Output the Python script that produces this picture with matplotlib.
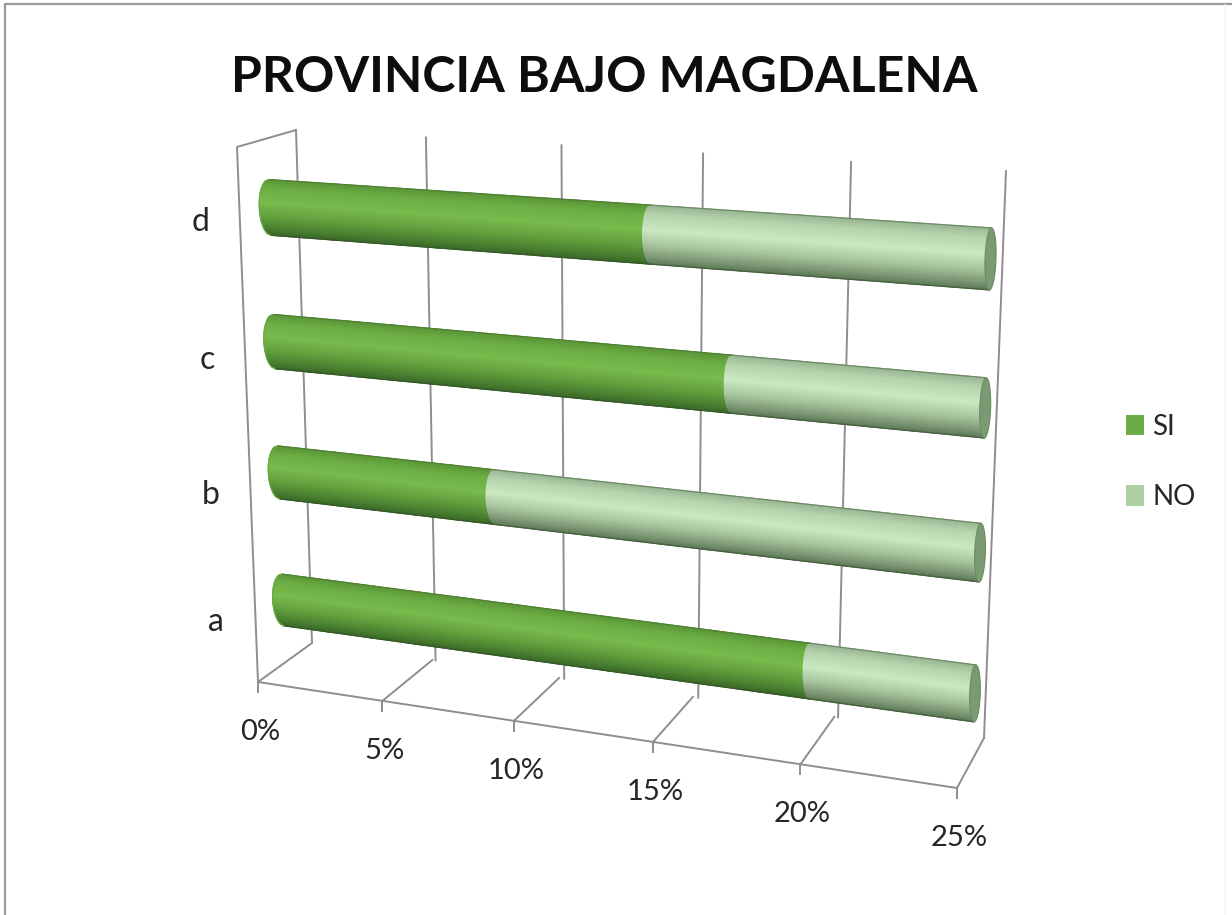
import numpy as np
import matplotlib
matplotlib.use("Agg")
import matplotlib.pyplot as plt
from matplotlib.colors import LinearSegmentedColormap
from matplotlib.patches import Patch
from matplotlib.transforms import Transform

# ===============================
# Data
# ===============================
categories = ["a", "b", "c", "d"]
si_values = [19.5, 8.3, 16.7, 13.9]
no_values = [5.5, 16.7, 8.3, 11.1]
x_ticks = [0, 5, 10, 15, 20, 25]
x_labels = ["0%", "5%", "10%", "15%", "20%", "25%"]
title = "PROVINCIA BAJO MAGDALENA"

# ===============================
# Perspective planes (pixel corners)
# ===============================
class Plane(Transform):
    input_dims = 2
    output_dims = 2

    def __init__(self, src, dst):
        super().__init__()
        A, b = [], []
        for (x, y), (u, v) in zip(src, dst):
            A.append([x, y, 1, 0, 0, 0, -u * x, -u * y])
            A.append([0, 0, 0, x, y, 1, -v * x, -v * y])
            b += [u, v]
        self.H = np.append(np.linalg.solve(A, b), 1).reshape(3, 3)

    def transform_non_affine(self, values):
        values = np.asarray(values, dtype=float)
        pts = np.column_stack([values, np.ones(len(values))]) @ self.H.T
        return pts[:, :2] / pts[:, 2:]


wall = Plane([(0, 0), (25, 0), (0, 1), (25, 1)],
             [(312, 643), (984, 738), (296, 130), (1006, 171)])
floor = Plane([(0, 0), (25, 0), (0, 1), (25, 1)],
              [(258, 682), (957, 788), (312, 643), (984, 738)])
side = Plane([(0, 0), (0, 1), (1, 0), (1, 1)],
             [(258, 682), (237, 147), (312, 643), (296, 130)])
bars = Plane([(0, 0), (25, 0), (0, 3), (25, 3)],
             [(283, 600), (975, 693.5), (270, 207.5), (990.5, 259)])

# ===============================
# Figure
# ===============================
plt.rcParams["font.family"] = ["Lato", "DejaVu Sans"]
fig = plt.figure(figsize=(12.32, 9.15), dpi=100)
ax = fig.add_axes([0, 0, 1, 1])
ax.set_xlim(0, 1232)
ax.set_ylim(915, 0)
ax.set_autoscale_on(False)
ax.axis("off")

grid_color = "#8e8e8e"
text_color = "#262626"

# figure border, only left and top show
ax.plot([5, 5, 1232], [915, 3.5, 3.5], color="#9a9a9a", lw=1.6)
ax.plot([1225, 1225], [3.5, 915], color="#f2f2f2", lw=1)

# ===============================
# Walls and floor
# ===============================
for x in x_ticks:
    ax.plot([x, x], [0, 1], color=grid_color, lw=1.4, zorder=1, transform=wall + ax.transData)
    ax.plot([x, x], [0, 1], color=grid_color, lw=1.4, zorder=1, transform=floor + ax.transData)

ax.plot([0, 25], [0, 0], color=grid_color, lw=1.4, zorder=1, transform=floor + ax.transData)
ax.plot([0, 0, 1], [0, 1, 1], color=grid_color, lw=1.4, zorder=1, transform=side + ax.transData)

for x, label in zip(x_ticks, x_labels):
    px, py = floor.transform([(x, 0)])[0]
    ax.plot([px, px], [py, py + 10], color=grid_color, lw=1.4, zorder=1)
    ax.text(px + 2, py + 50, label, fontsize=21, color=text_color, ha="center", va="center")

# ===============================
# Cylinders
# ===============================
si_cmap = LinearSegmentedColormap.from_list("si", [
    (0.0, "#3a6827"), (0.12, "#4a8030"), (0.32, "#629f3e"),
    (0.58, "#79bb4c"), (0.85, "#6cae44"), (1.0, "#5c9638")])
no_cmap = LinearSegmentedColormap.from_list("no", [
    (0.0, "#5d7856"), (0.12, "#7c9874"), (0.32, "#a6c49d"),
    (0.58, "#cbe9c2"), (0.85, "#b5d3ac"), (1.0, "#9ab793")])

half = 0.205
u = np.linspace(-1, 1, 41)


def bulge(x):
    return 0.42 - 0.01 * x


def draw_segment(i, start, stop, cmap):
    xs = np.linspace(start, stop, 12)
    X = np.array([xs - bulge(xs) * np.sqrt(1 - k ** 2) for k in u])
    Y = np.array([np.full_like(xs, i + half * k) for k in u])
    C = np.array([np.full_like(xs, k) for k in u])
    ax.pcolormesh(X, Y, C, shading="gouraud", cmap=cmap, vmin=-1, vmax=1,
                  zorder=3, transform=bars + ax.transData)


for i, (si, no) in enumerate(zip(si_values, no_values)):
    total = si + no
    draw_segment(i, 0, si, si_cmap)
    draw_segment(i, si, total, no_cmap)

    # outline along the top and bottom edge
    ax.plot([0, si], [i + half] * 2, color="#4f8033", lw=0.9, zorder=4, transform=bars + ax.transData)
    ax.plot([0, si], [i - half] * 2, color="#35582a", lw=0.9, zorder=4, transform=bars + ax.transData)
    ax.plot([si, total], [i + half] * 2, color="#6d8a64", lw=0.9, zorder=4, transform=bars + ax.transData)
    ax.plot([si, total], [i - half] * 2, color="#465f3e", lw=0.9, zorder=4, transform=bars + ax.transData)

    # rounded left end
    ax.plot(-bulge(0) * np.sqrt(1 - u ** 2), i + half * u, color="#6aa944", lw=0.8, zorder=4,
            transform=bars + ax.transData)

    # right end face
    t = np.linspace(0, 2 * np.pi, 80)
    ax.fill(total + bulge(total) * np.cos(t), i + half * np.sin(t), facecolor="#7a9a72",
            edgecolor="#6d8a66", lw=0.8, zorder=4, transform=bars + ax.transData)

# ===============================
# Text
# ===============================
label_x = [216, 211, 207, 201]
label_y = [622, 495, 360, 222]
for name, lx, ly in zip(categories, label_x, label_y):
    ax.text(lx, ly, name, fontsize=23, color=text_color, ha="center", va="center")

ax.text(604, 78, title, fontsize=36, fontweight="bold", color="#0d0d0d", ha="center", va="center")

handles = [Patch(facecolor="#6aac46", label="SI"), Patch(facecolor="#afcfa5", label="NO")]
ax.legend(handles=handles, loc="center left", bbox_to_anchor=(1126, 462), bbox_transform=ax.transData,
          frameon=False, fontsize=20, labelcolor=text_color, handlelength=0.65, handleheight=0.75,
          handletextpad=0.3, labelspacing=1.6, borderpad=0, borderaxespad=0)

plt.savefig("out.png", dpi=100)
